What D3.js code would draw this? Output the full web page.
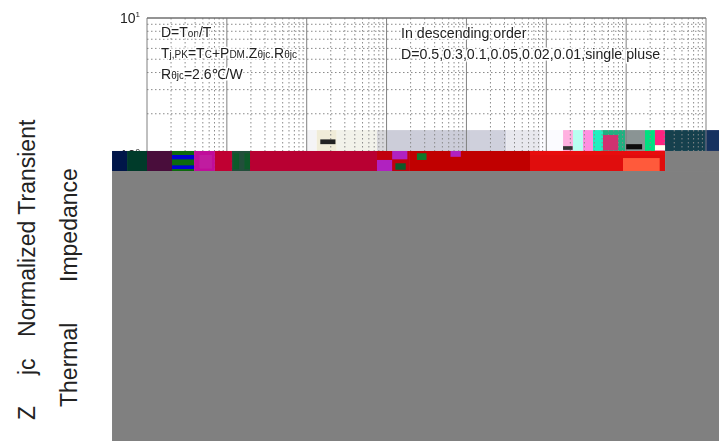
<!DOCTYPE html>
<html><head><meta charset="utf-8">
<script src="https://cdn.jsdelivr.net/npm/d3@7"></script>
<style>html,body{margin:0;background:#fff}svg{display:block}text{font-family:"Liberation Sans",Arial,sans-serif}</style>
</head><body><svg id="c" width="727" height="441"></svg>
<script>
// Axes
const xDomain = [1e-6, 10];
const yDomain = [10, 0.01];
const majorX = [1e-6,1e-5,1e-4,1e-3,1e-2,1e-1,1,10];
const minorMult = [2,3,4,5,6,7,8,9];
const yTickExps = [1, 0];
const noteLeft = [["D=T",14],["on",10],["/T",14]];
const noteLeft2 = [["T",14],["j,PK",10],["=T",14],["C",10],["+P",14],["DM",10],[".Z",14],["θjc",10],[".R",14],["θjc",10]];
const noteLeft3 = [["R",14],["θjc",10],["=2.6℃/W",14]];
const noteRight = ["In descending order","D=0.5,0.3,0.1,0.05,0.02,0.01,single pluse"];

// Damaged image regions: extents in log10(x) and Z values
const upperEdges = [-4,-3.875,-3.624,-3.12,-3,-1.955,-1.5,-1.079,-0.79,-0.666,-0.54,-0.415,-0.29,-0.014,0.236,0.361,0.487,0.987,1.163];
const upperTop = 1.52, upperBottom = 1.07;
const lowerEdges = [-6.438,-6.25,-6,-5.687,-5.411,-5.149,-4.936,-4.71,-3.12,-2.707,-1.204,0.487];
const lowerBottom = 0.764;
const greyLeft = -6.438, greyRight = 1.163, greyBottom = 0.0081;
const patchX0 = [-5.687,-5.687,-5.34,-4.92,-4.78,-3.12,-2.93,-2.89,-2.62,-2.2,-3.83,-1.204,-0.04,0.0,-0.79,-0.29,0.361];
const patchX1 = [-5.411,-5.411,-5.19,-4.85,-4.71,-2.93,-2.74,-2.76,-2.5,-2.07,-3.64,0.487,0.42,0.2,-0.67,-0.1,0.487];
const patchTop = [1.0,0.84,1.0,1.03,1.03,0.92,1.07,0.87,1.03,1.07,1.3,1.07,0.95,1.2,1.16,1.4,1.18];
const patchBot = [0.93,0.79,0.8,0.79,0.79,0.764,0.93,0.78,0.92,0.97,1.2,1.0,0.764,1.1,1.09,1.08,1.08];
const patchFill = ["#0000d0","#0000d0","#c01fa0","#0f5a2a","#0f5a2a","#b020c0","#b020c0","#0f5a2a","#0f7a2a","#b020c0","#222","#e81010","#ff5a3a","#111","#333","#d03070","#ffe"];
const upperFill = ["#f4f4f6","#f0ecd8","#f2f2ea","#d8d8dc","#cccdd9","#cfd0dc","#e8e8ee","#fbfbff","#ffb0e0","#b8fff0","#ff90e0","#20f0c0","#20b080","#8a9494","#00e080","#ff2080","#123f4e","#14305f"];
const lowerFill = ["#06164a","#063a2a","#4a0a3a","#0a6a10","#c0109a","#c00030","#20503a","#b80030","#c00010","#c00000","#e00c0c"];

const svg = d3.select("#c");
const x = d3.scaleLog().domain(xDomain).range([147,706]);
const y = d3.scaleLog().domain(yDomain).range([18,429]);
const xe = e => x(Math.pow(10,e));
const defs = svg.append("defs");
defs.append("filter").attr("id","soft").append("feGaussianBlur").attr("stdDeviation",0.45);
const root = svg.append("g").attr("filter","url(#soft)");

// pale damaged strip sits under the grid
root.selectAll(".u").data(upperFill).join("rect")
  .attr("x",(d,i)=>xe(upperEdges[i])).attr("width",(d,i)=>xe(upperEdges[i+1])-xe(upperEdges[i]))
  .attr("y",y(upperTop)).attr("height",y(upperBottom)-y(upperTop)).attr("fill",d=>d);

// grid
const minorX = d3.merge(majorX.slice(0,-1).map(m=>minorMult.map(k=>m*k)));
const minorY = d3.merge([1,0.1,0.01].map(m=>minorMult.map(k=>m*k)));
root.selectAll(".vm").data(minorX).join("line")
  .attr("x1",d=>x(d)).attr("x2",d=>x(d)).attr("y1",y.range()[0]).attr("y2",y.range()[1])
  .attr("stroke","#8a8a8a").attr("stroke-dasharray","1.5 2.5");
root.selectAll(".hm").data(minorY).join("line")
  .attr("x1",x.range()[0]).attr("x2",x.range()[1]).attr("y1",d=>y(d)).attr("y2",d=>y(d))
  .attr("stroke","#8a8a8a").attr("stroke-dasharray","1.5 2.5");
root.selectAll(".vM").data(majorX).join("line")
  .attr("x1",d=>x(d)).attr("x2",d=>x(d)).attr("y1",y.range()[0]).attr("y2",y.range()[1])
  .attr("stroke","#808080").attr("stroke-width",1);
root.append("line").attr("x1",x.range()[0]).attr("x2",x.range()[1]).attr("y1",18).attr("y2",18)
  .attr("stroke","#707070").attr("stroke-width",1.4);

// y tick labels
const tick = root.selectAll(".t").data(yTickExps).join("text")
  .attr("x",140).attr("y",d=>y(Math.pow(10,d))+5).attr("text-anchor","end").attr("font-size",14).attr("fill","#222");
tick.append("tspan").text("10");
tick.append("tspan").text(d=>d).attr("font-size",8).attr("dy",-6);

// annotations
function note(parts,xp,yp){
  const t = root.append("text").attr("x",xp).attr("y",yp).attr("fill","#222")
    .attr("stroke","#fff").attr("stroke-width",3).attr("paint-order","stroke");
  t.selectAll("tspan").data(parts).join("tspan").text(d=>d[0]).attr("font-size",d=>d[1]);
}
note(noteLeft,161,37); note(noteLeft2,161,58); note(noteLeft3,161,79);
noteRight.forEach((s,i)=>root.append("text").attr("x",401).attr("y",38+i*21).text(s)
  .attr("font-size",14.2).attr("fill","#222").attr("stroke","#fff").attr("stroke-width",3).attr("paint-order","stroke"));

// strong damaged strip and grey fill over the chart
root.selectAll(".l").data(lowerFill).join("rect")
  .attr("x",(d,i)=>xe(lowerEdges[i])).attr("width",(d,i)=>xe(lowerEdges[i+1])-xe(lowerEdges[i]))
  .attr("y",y(upperBottom)).attr("height",y(lowerBottom)-y(upperBottom)).attr("fill",d=>d);
root.selectAll(".p").data(patchFill).join("rect")
  .attr("x",(d,i)=>xe(patchX0[i])).attr("width",(d,i)=>xe(patchX1[i])-xe(patchX0[i]))
  .attr("y",(d,i)=>y(patchTop[i])).attr("height",(d,i)=>y(patchBot[i])-y(patchTop[i])).attr("fill",d=>d);
svg.append("rect").attr("x",xe(lowerEdges[lowerEdges.length-1])).attr("width",xe(greyRight)-xe(lowerEdges[lowerEdges.length-1]))
  .attr("y",y(upperBottom)).attr("height",y(lowerBottom)-y(upperBottom)).attr("fill","#808080");
svg.append("rect").attr("x",xe(greyLeft)).attr("width",xe(greyRight)-xe(greyLeft))
  .attr("y",y(lowerBottom)).attr("height",y(greyBottom)-y(lowerBottom)).attr("fill","#808080");

// y title
const titles = [["Z",420,35],["jc",375,35],["Normalized Transient",337,35],["Thermal",407,77],["Impedance",282,77]];
svg.selectAll(".yt").data(titles).join("text").text(d=>d[0])
  .attr("transform",d=>`translate(${d[2]},${d[1]}) rotate(-90)`)
  .attr("font-size",23).attr("fill","#222");
</script></body></html>
